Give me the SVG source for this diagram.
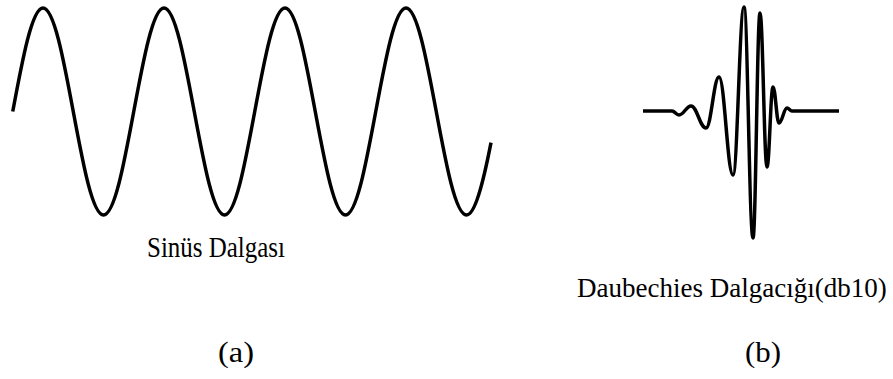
<svg xmlns="http://www.w3.org/2000/svg" width="893" height="379" viewBox="0 0 893 379">
<style>
.wave{fill:none;stroke:#000;stroke-width:3.5;stroke-linejoin:round;stroke-linecap:butt}
.lbl{font-family:"Liberation Serif","Times New Roman",serif;font-size:29px;fill:#000}
</style>
<rect x="0" y="0" width="893" height="379" fill="#fff"/>
<g id="sine">
<path class="wave" d="M12.75,111.5 C22.615,58.48 32.05,8 43,8 C53.950,8 63.385,58.48 73.25,111.5 C83.115,164.52 92.55,215 103.5,215 C114.45,215 123.885,164.52 133.75,111.5 C143.615,58.48 153.05,8 164,8 C174.95,8 184.385,58.48 194.25,111.5 C204.115,164.52 213.55,215 224.5,215 C235.45,215 244.885,164.52 254.75,111.5 C264.615,58.48 274.05,8 285,8 C295.95,8 305.385,58.48 315.25,111.5 C325.115,164.52 334.55,215 345.5,215 C356.45,215 365.885,164.52 375.75,111.5 C385.615,58.48 395.05,8 406,8 C416.95,8 426.385,58.48 436.25,111.5 C446.115,164.52 455.55,215 466.5,215 C474.67,215 482.83,184.5 491,142.6"/>
<text class="lbl" x="147" y="257" textLength="138" lengthAdjust="spacingAndGlyphs">Sinüs Dalgası</text>
<text class="lbl" x="218" y="362" textLength="36" lengthAdjust="spacingAndGlyphs">(a)</text>
</g>
<g id="wavelet">
<path class="wave" d="M643,111 L672,111 C674.8,111 676.2,115 679,115 C683.8,115 686.2,106 691,106 C697,106 700,128 706,128 C711.2,128 713.8,77 719,77 C724.6,77 727.4,175 733,175 C737.4,175 739.6,7 744,7 C747.6,7 749.4,238 753,238 C755.8,238 757.2,13 760,13 C762.8,13 764.2,167 767,167 C769.4,167 770.6,87 773,87 C775.4,87 776.6,123 779,123 C782.2,123 783.8,108 787,108 C789,108 790,111 792,111 L839,111"/>
<text class="lbl" x="577" y="297" style="font-size:27px">Daubechies Dalgacığı(db10)</text>
<text class="lbl" x="745" y="362" textLength="36" lengthAdjust="spacingAndGlyphs">(b)</text>
</g>
</svg>
